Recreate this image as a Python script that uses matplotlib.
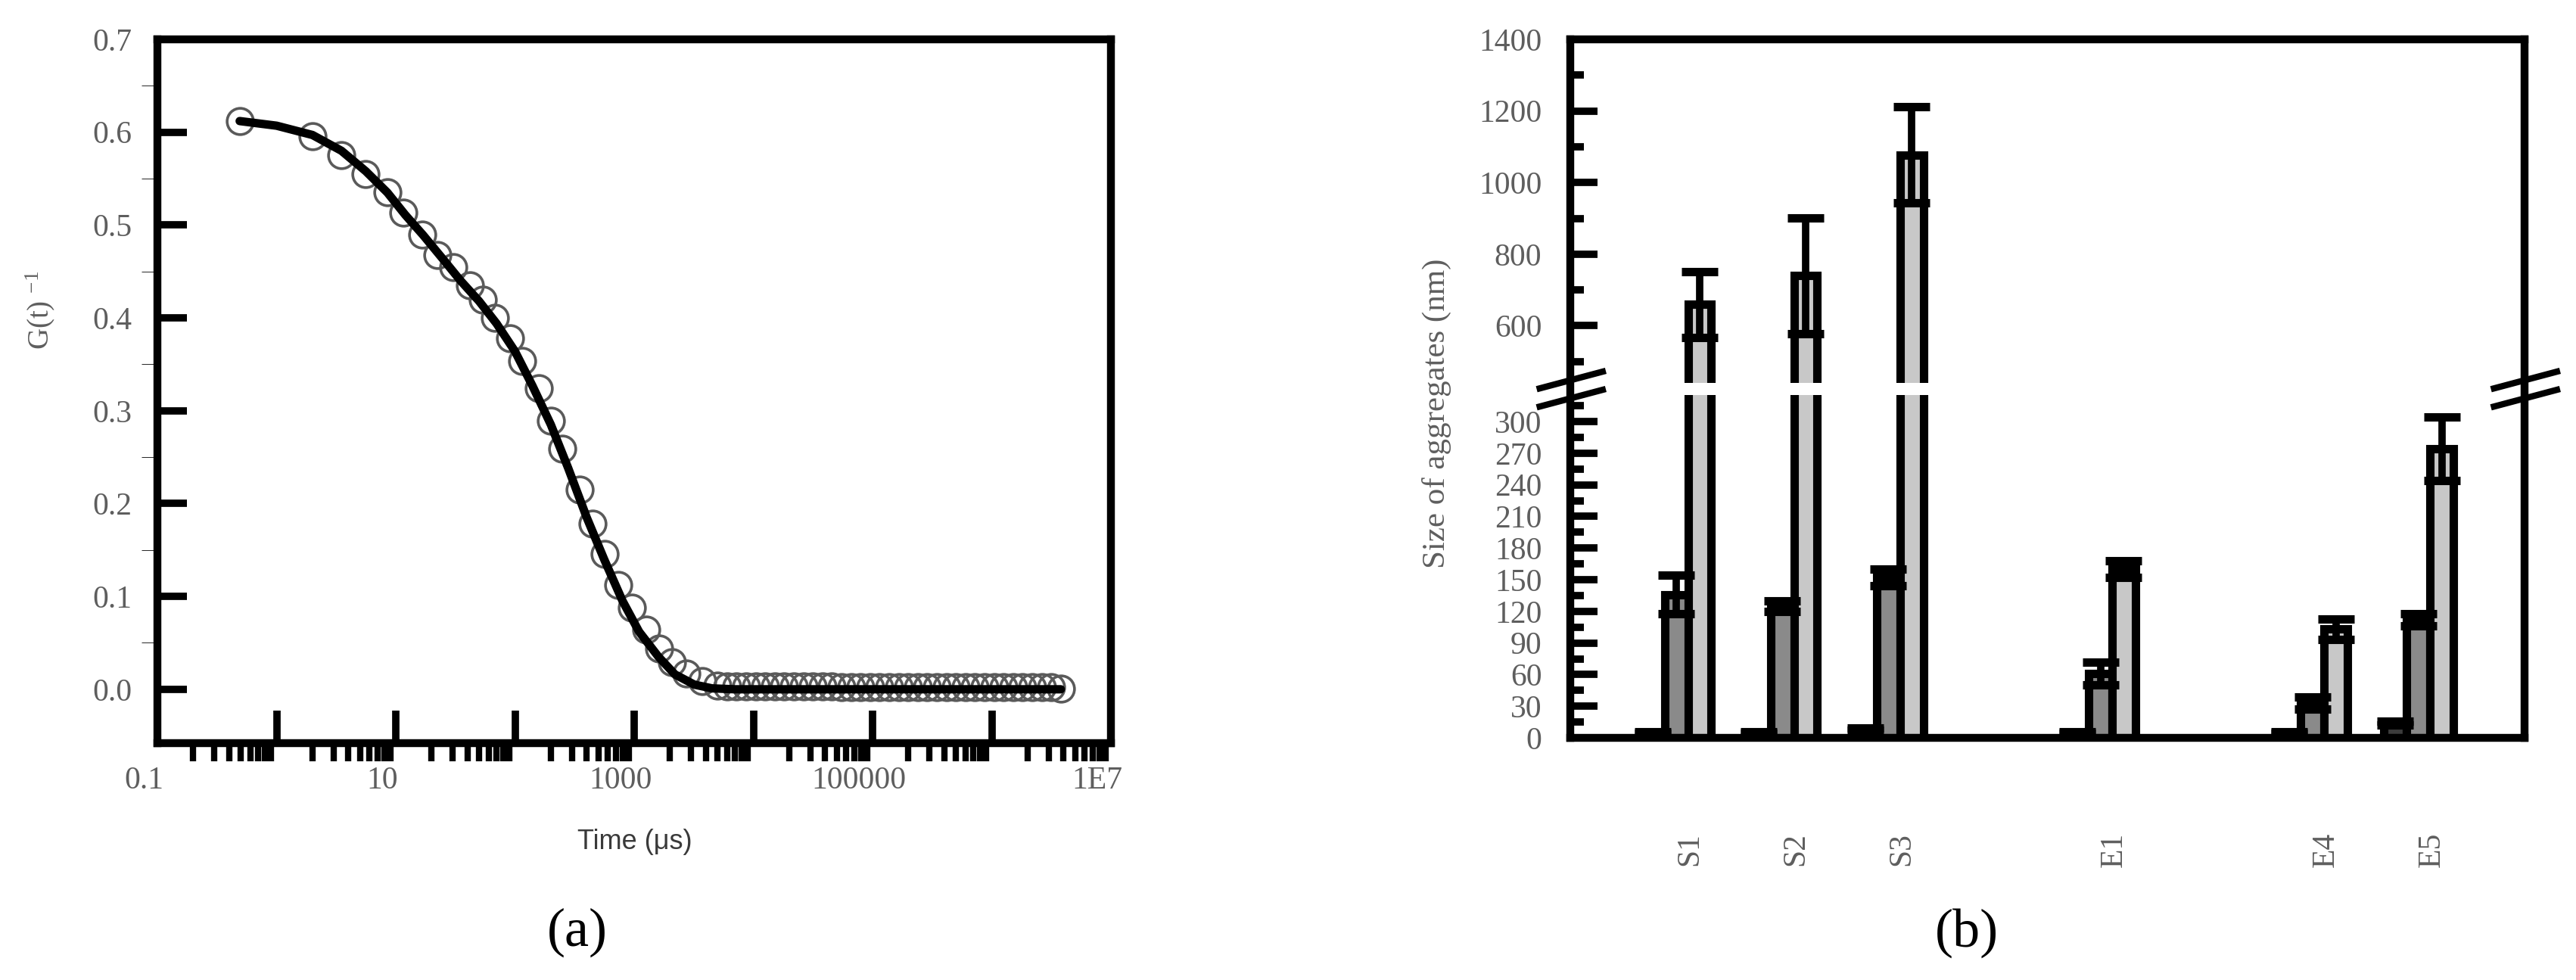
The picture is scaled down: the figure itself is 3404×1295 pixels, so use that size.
import numpy as np
import matplotlib
matplotlib.use("Agg")
import matplotlib.pyplot as plt
from matplotlib.ticker import FixedLocator, FixedFormatter, LogLocator, NullFormatter
from matplotlib.transforms import ScaledTranslation

plt.rcParams['font.family'] = ['Liberation Serif', 'DejaVu Serif']
plt.rcParams['mathtext.fontset'] = 'custom'
plt.rcParams['mathtext.rm'] = 'Liberation Serif'
plt.rcParams['mathtext.default'] = 'regular'

time_us = [0.49, 2.0, 3.47, 5.56, 8.5, 11.5, 16.6, 22.4, 30.2, 41.7, 53.7, 67.6,
           91.2, 115, 158, 200, 251, 347, 447, 562, 741, 955, 1259, 1622, 2089,
           2754, 3715, 5012, 6026, 7244, 8710, 10471, 12589, 15136, 18197, 21878,
           26303, 31623, 38019, 45709, 54954, 66069, 79433, 95499, 114815,
           138038, 165959, 199526, 239883, 288403, 346737, 416869, 501187,
           602560, 724436, 870964, 1047129, 1258925, 1513561, 1819701, 2187762,
           2630268, 3162278, 3801894]
g_meas = [0.612, 0.596, 0.575, 0.555, 0.535, 0.513, 0.490, 0.468, 0.455, 0.435,
          0.420, 0.400, 0.378, 0.354, 0.324, 0.289, 0.259, 0.215, 0.178, 0.146,
          0.112, 0.088, 0.064, 0.044, 0.029, 0.017, 0.009, 0.004, 0.003, 0.003,
          0.003, 0.003, 0.003, 0.003, 0.003, 0.003, 0.003, 0.003, 0.003, 0.003,
          0.002, 0.002, 0.002, 0.002, 0.002, 0.002, 0.002, 0.002, 0.002, 0.002,
          0.002, 0.002, 0.002, 0.002, 0.002, 0.002, 0.002, 0.002, 0.002, 0.002,
          0.002, 0.002, 0.002, 0.001]
fit_t = [0.49, 1.0, 2.0, 3.5, 5.6, 8.5, 12, 17, 25, 35, 50, 70, 100, 140, 200,
         280, 400, 560, 800, 1100, 1600, 2200, 3200, 4500, 7000, 3.8e6]
fit_g = [0.612, 0.607, 0.597, 0.580, 0.558, 0.535, 0.511, 0.489, 0.463, 0.440,
         0.418, 0.394, 0.364, 0.327, 0.285, 0.238, 0.185, 0.140, 0.095, 0.062,
         0.035, 0.016, 0.005, 0.001, 0.0, 0.0]

# ---- (b) aggregate sizes
samples = ['S1', 'S2', 'S3', 'E1', 'E4', 'E5']
slots = [1, 2, 3, 5, 7, 8]
size_small = [5, 5, 8, 5, 5, 14]
err_small = [1, 1, 1, 1, 1, 2]
size_mid = [136, 125, 152, 61, 33, 112]
err_mid = [18, 5, 8, 11, 6, 6]
size_big = [660, 740, 1077, 160, 103, 274]
err_big = [92, 162, 134, 8, 10, 30]

W, H = 3404, 1295
fig = plt.figure(figsize=(W / 100, H / 100), dpi=100)
GRAY = '#5e5e5e'


def px(x, y):
    return x / W, 1 - y / H


# ================= panel (a) =================
ax = fig.add_axes([208 / W, 1 - 982 / H, 1260 / W, 930 / H])
ax.plot(time_us, g_meas, 'o', ms=25, mfc='none', mec='#5a5a5a', mew=2.6, zorder=2)
ax.plot(fit_t, fit_g, '-', color='black', lw=8, solid_capstyle='round', zorder=3)
ax.set_xscale('log')
ax.set_xlim(0.1, 1e7)
ax.set_ylim(-0.058, 0.7)

decades = [0.1, 1, 10, 100, 1000, 1e4, 1e5, 1e6, 1e7]
ax.xaxis.set_major_locator(FixedLocator(decades))
ax.xaxis.set_major_formatter(FixedFormatter(['0.1', '', '10', '', '1000', '', '100000', '', '1E7']))
ax.xaxis.set_minor_locator(LogLocator(base=10, subs=np.arange(2, 10), numticks=20))
ax.xaxis.set_minor_formatter(NullFormatter())
ax.yaxis.set_major_locator(FixedLocator(np.round(np.arange(0, 0.71, 0.1), 2)))
ax.yaxis.set_major_formatter(FixedFormatter(['0.0', '0.1', '0.2', '0.3', '0.4', '0.5', '0.6', '0.7']))
ax.yaxis.set_minor_locator(FixedLocator(np.round(np.arange(0.05, 0.7, 0.1), 2)))

ax.tick_params(direction='in', top=False, right=False, width=7, colors='black',
               labelcolor=GRAY, labelsize=30)
ax.tick_params(axis='x', which='major', length=31, pad=22)
ax.tick_params(axis='x', which='minor', length=17, width=6)
ax.tick_params(axis='y', which='major', length=28, pad=24)
ax.tick_params(axis='y', which='minor', length=15)
for lab in ax.get_xticklabels():
    lab.set_transform(lab.get_transform() + ScaledTranslation(-0.18, 0, fig.dpi_scale_trans))
for sp in ax.spines.values():
    sp.set_linewidth(7.5)

fig.text(*px(53, 410), r'G(t) $^{-1}$', rotation=90, ha='center', va='center',
         fontsize=28, color=GRAY)
fig.text(*px(839, 1112), 'Time (\u03bcs)', ha='center', va='center', fontsize=26,
         color='#3a3a3a', family=['Liberation Sans', 'DejaVu Sans'])
fig.text(*px(763, 1232), '(a)', ha='center', va='center', fontsize=52, color='black')

# ================= panel (b): broken y axis =================
brk_v = np.array([0.0, 325.0, 440.0, 1400.0])
brk_t = np.array([0.0, 0.4906, 0.508, 1.0])
k_lo = brk_t[1] / brk_v[1]
k_hi = (brk_t[3] - brk_t[2]) / (brk_v[3] - brk_v[2])


def fwd(v):
    v = np.asarray(v, dtype=float)
    out = np.interp(v, brk_v, brk_t)
    out = np.where(v < 0, v * k_lo, out)
    out = np.where(v > 1400, 1 + (v - 1400) * k_hi, out)
    return out


def inv(t):
    t = np.asarray(t, dtype=float)
    out = np.interp(t, brk_t, brk_v)
    out = np.where(t < 0, t / k_lo, out)
    out = np.where(t > 1, 1400 + (t - 1) / k_hi, out)
    return out


bx = fig.add_axes([2075 / W, 1 - 975 / H, 1261 / W, 923 / H])
bx.set_yscale('function', functions=(fwd, inv))
bx.set_xlim(0, 9)
bx.set_ylim(0, 1400)

slots = np.array(slots, dtype=float)
bw = 0.22
series = [(size_small, err_small, '#3c3c3c', -bw),
          (size_mid, err_mid, '#8a8a8a', 0.0),
          (size_big, err_big, '#c8c8c8', bw)]
for vals, errs, col, off in series:
    bx.bar(slots + off, vals, width=bw, color=col, edgecolor='black', linewidth=8, zorder=1)
    bx.errorbar(slots + off, vals, yerr=errs, fmt='none', ecolor='black',
                elinewidth=7, capsize=17, capthick=8, zorder=2)

# white gap across the break
bx.axhspan(325, 440, color='white', lw=0, zorder=3)
for sp in bx.spines.values():
    sp.set_linewidth(7.5)
    sp.set_zorder(4)

# "//" break marks on both side spines
for xa in (0.0, 1.0):
    for dy in (-0.013, 0.013):
        bx.plot([xa - 0.032, xa + 0.034], [0.4993 + dy - 0.012, 0.4993 + dy + 0.012],
                transform=bx.transAxes, color='black', lw=6, clip_on=False, zorder=6)

ymaj = [0, 30, 60, 90, 120, 150, 180, 210, 240, 270, 300, 600, 800, 1000, 1200, 1400]
ymin = [15, 45, 75, 105, 135, 165, 195, 225, 255, 285, 315, 500, 700, 900, 1100, 1300]
bx.yaxis.set_major_locator(FixedLocator(ymaj))
bx.yaxis.set_major_formatter(FixedFormatter([str(v) for v in ymaj]))
bx.yaxis.set_minor_locator(FixedLocator(ymin))
bx.yaxis.set_minor_formatter(NullFormatter())
bx.xaxis.set_major_locator(FixedLocator(slots))
bx.xaxis.set_major_formatter(FixedFormatter(samples))

bx.tick_params(axis='y', which='both', direction='in', right=False, width=7,
               labelcolor=GRAY, labelsize=30)
bx.tick_params(axis='y', which='major', length=26, pad=27)
bx.tick_params(axis='y', which='minor', length=13)
bx.tick_params(axis='x', length=0, pad=90, labelrotation=90, labelcolor=GRAY,
               labelsize=30)
for lab in bx.get_xticklabels():
    lab.set_transform(lab.get_transform() + ScaledTranslation(0.18, 0, fig.dpi_scale_trans))

fig.text(*px(1898, 546), 'Size of aggregates (nm)', rotation=90, ha='center',
         va='center', fontsize=31, color=GRAY)
fig.text(*px(2599, 1233), '(b)', ha='center', va='center', fontsize=52, color='black')

fig.savefig('out.png', dpi=100, facecolor='white')
